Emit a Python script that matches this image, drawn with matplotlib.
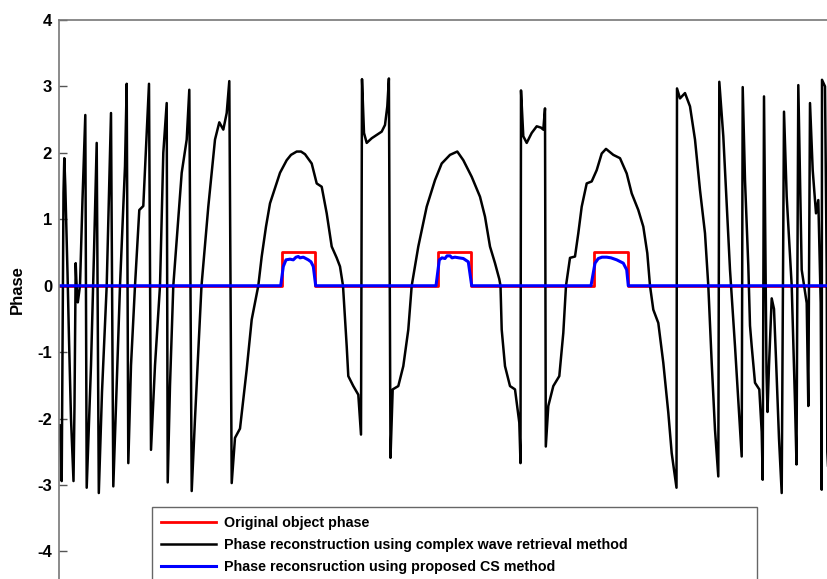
import numpy as np
import matplotlib
matplotlib.use("Agg")
import matplotlib.pyplot as plt

plt.rcParams['font.family'] = ['Liberation Sans', 'DejaVu Sans']
plt.rcParams['font.weight'] = 'bold'
plt.rcParams['axes.unicode_minus'] = False

### Data (x = sample position, y = phase in rad)
# original object phase: three flat pulses
pulse_start = [223.3, 379.3, 535.3]
pulse_end = [256.0, 411.7, 568.7]
pulse_height = 0.51

# reconstruction with proposed CS method (only non-zero inside the pulses)
cs_x = [0, 221.7, 224.3, 227, 231, 234.3, 237, 239.3, 241, 244.3, 249.3, 252, 254.3, 256.7,
        377, 380.3, 383, 386, 388, 391, 393, 396, 400, 404.3, 409.3, 412.7,
        532, 536, 539.3, 543, 547.7, 552, 557.7, 564.3, 567.7, 569.3, 775]
cs_y = [0, 0, 0.29, 0.39, 0.40, 0.39, 0.43, 0.44, 0.42, 0.43, 0.39, 0.36, 0.29, 0,
        0, 0.39, 0.42, 0.41, 0.45, 0.45, 0.42, 0.43, 0.42, 0.41, 0.36, 0,
        0, 0.34, 0.41, 0.43, 0.43, 0.42, 0.39, 0.34, 0.24, 0, 0]

# reconstruction with complex wave retrieval (wrapped phase)
cw_x = [0.5, 1.5, 2.7, 3.5, 4.5, 5.3, 6.3, 7.7, 8.5, 10, 12, 14.5, 15.5, 16.3, 16.7, 17.3,
        18, 18.8, 21, 23.5, 26.3, 27.7, 32, 35, 37.7, 39.8, 43, 47.7, 52, 54.3, 57, 61,
        66, 67.7, 69.3, 72, 76, 80.3, 84.3, 87.7, 90, 92, 96, 101, 104.3, 107.7, 108.7,
        111, 114.3, 122.7, 127.7, 130.3, 132.7, 136, 142.5, 149.3, 156, 160.3, 164.3,
        167.7, 170.3, 172.7,
        176, 181, 187.7, 192.7, 199.3, 202.7, 207, 211, 221, 227.7, 232, 237.7, 242,
        246, 252.7, 257.7, 262.7, 267.7, 272.7, 277.7, 281, 284, 287.7, 289.3, 294.3,
        299.3, 302, 303, 305, 307.7, 312.7, 317.7, 322.7, 326, 328.3, 329.9, 331.5,
        333.7, 339.3, 344.3, 349.3, 352.7,
        359.3, 367.7, 376, 382.7, 391, 398.3, 404.3, 412.7, 421, 426, 431, 436, 440.3,
        441.5, 442.7, 446, 451, 456, 460.3, 461.5, 462, 464.3, 467.7, 472.7, 477.7,
        482, 484.3, 486, 486.8, 489.3, 494.3, 500.3, 504.3, 507,
        511, 516, 519.3, 522.7, 527.7, 532.7, 537.7, 542.7, 547, 554.3, 561, 567.7,
        572.7, 579.3, 584.3, 588.3, 591, 594.3, 599.3, 604.3, 609.3, 612.7, 617.5,
        618, 621, 626, 631, 636, 641, 646, 649.3, 652.7, 656, 659.3, 660.3, 664.3,
        671, 676, 682.7, 683.7, 686, 689.3, 691, 692.7, 696, 700.3, 702.7, 703.7,
        705, 706.5, 707.5, 708.5, 710, 712.7, 715, 717, 720, 722.7, 725, 727.7,
        732.7, 736, 737.5, 739.3, 742.7, 747.7, 749.3, 751, 753.7, 757, 759.3,
        761.7, 762.7, 763, 766, 767.7, 768.3, 770]
cw_y = [-2.1, -2.4, -2.94, -1.0, 1.4, 1.92, 1.5, 0.69, 0.2, -0.8, -2.0, -2.94, -1.8, -0.3,
        0.34, 0.1, -0.1, -0.25, 0.0, 1.3, 2.57, -3.04, -1.2, 0.5, 2.15, -3.12, -1.6, 0.0,
        2.6, -3.02, -1.8, 0.0, 1.8, 3.04, -2.67, -1.2, 0.0, 1.14, 1.2, 2.3, 3.04, -2.47,
        -1.2, 0.0, 2.0, 2.75, -2.96, -1.5, 0.0, 1.7, 2.2, 2.95, -3.09, -2.0, 0.0, 1.19,
        2.2, 2.46, 2.35, 2.6, 3.08, -2.97,
        -2.29, -2.15, -1.26, -0.51, 0.0, 0.44, 0.89, 1.24, 1.7, 1.89, 1.97, 2.02, 2.02,
        1.98, 1.84, 1.54, 1.49, 1.09, 0.59, 0.42, 0.29, 0.0, -0.91, -1.36, -1.51,
        -1.64, -2.24, 3.11, 2.30, 2.15, 2.22, 2.27, 2.32, 2.42, 2.70, 3.12, -2.59,
        -1.56, -1.51, -1.21, -0.66, 0.0,
        0.59, 1.19, 1.59, 1.84, 1.97, 2.02, 1.89, 1.64, 1.34, 1.04, 0.59, 0.34, 0.10,
        0.0, -0.66, -1.21, -1.51, -1.56, -2.06, -2.67, 2.94, 2.25, 2.15, 2.30, 2.40,
        2.38, 2.35, 2.67, -2.42, -1.81, -1.51, -1.36, -0.71, 0.0,
        0.42, 0.44, 0.79, 1.19, 1.54, 1.57, 1.74, 1.99, 2.06, 1.97, 1.92, 1.69,
        1.39, 1.14, 0.89, 0.49, 0.0, -0.36, -0.56, -1.16, -1.91, -2.52, -3.04,
        2.97, 2.82, 2.90, 2.70, 2.20, 1.44, 0.79, 0.0, -1.16, -2.17, -2.87, 3.07, 2.25,
        0.24, -0.91, -2.57, 2.99, 1.59, 0.3, -0.6, -0.91, -1.46, -1.56, -2.2, -2.92,
        2.85, 0.3, -1.3, -1.9, -1.2, -0.19, -0.35, -1.1, -2.3, -3.12, 2.62, 1.34,
        0.0, -1.76, -2.69, 3.02, 0.24, -0.26, -1.81, 2.75, 1.74, 1.09, 1.29,
        -0.26, -3.07, 3.1, 3.0, 0.24, -2.5, -3.0]

labels = ['Original object phase',
          'Phase reconstruction using complex wave retrieval method',
          'Phase reconsruction using proposed CS method']

### Build the step line for the original phase
orig_x = [0]
orig_y = [0]
for s, e in zip(pulse_start, pulse_end):
    orig_x += [s, s, e, e]
    orig_y += [0, pulse_height, pulse_height, 0]
orig_x.append(775)
orig_y.append(0)

W, H = 828, 579
fig = plt.figure(figsize=(W / 100, H / 100), dpi=100)
ax = fig.add_axes([59 / W, 1 - 598 / H, (834 - 59) / W, 578 / H])

ax.plot(orig_x, orig_y, color='#ff0000', lw=2.0, label=labels[0])
ax.plot(cw_x, cw_y, color='black', lw=1.8, label=labels[1])
ax.plot(cs_x, cs_y, color='#0000ff', lw=2.2, label=labels[2])

ax.set_xlim(0, 775)
ax.set_ylim(-4.7, 4)
ax.set_yticks(range(-4, 5))
ax.set_xticks([])
ax.tick_params(axis='y', direction='in', length=6, width=1, color='#555555',
               labelsize=12, pad=5)
for lbl in ax.get_yticklabels():
    lbl.set_fontweight('bold')
for side in ['left', 'top']:
    ax.spines[side].set_color('#777777')
    ax.spines[side].set_linewidth(1.2)
ax.spines['right'].set_visible(False)
ax.spines['bottom'].set_visible(False)

ax.set_ylabel('Phase', fontsize=12, fontweight='bold')
ax.yaxis.set_label_coords(-34 / 775, (598 - 290) / 578)

# legend box is wider than its text, so stretch it over a fixed span
leg = ax.legend(loc='upper left', bbox_to_anchor=(152 / W, 0, 605 / W, 1 - 507 / H),
                bbox_transform=fig.transFigure, mode='expand', borderaxespad=0,
                prop={'size': 10.3, 'weight': 'bold'}, handlelength=3.85,
                handletextpad=0.55, labelspacing=0.58, borderpad=0.6,
                fancybox=False, framealpha=1)
leg.get_frame().set_edgecolor('#666666')
leg.get_frame().set_linewidth(1.0)

fig.savefig('out.png', dpi=100)
